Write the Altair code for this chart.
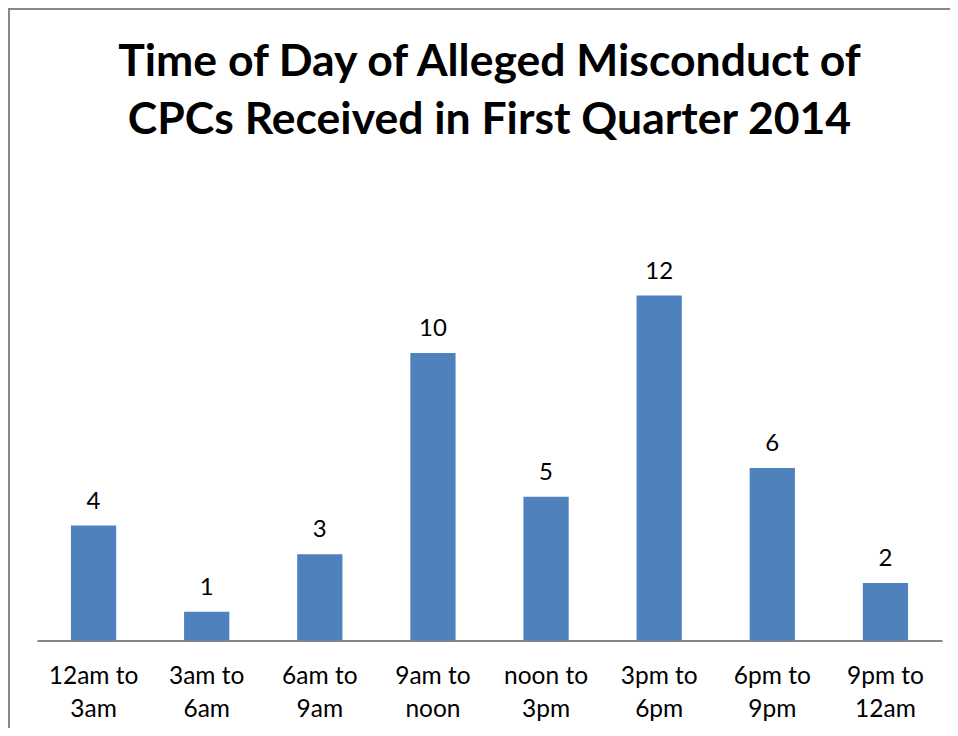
import altair as alt
import pandas as pd

categories = ["12am to|3am", "3am to|6am", "6am to|9am", "9am to|noon",
              "noon to|3pm", "3pm to|6pm", "6pm to|9pm", "9pm to|12am"]
values = [4, 1, 3, 10, 5, 12, 6, 2]

df = pd.DataFrame({"slot": categories, "count": values})

FONT = "Lato"

x = alt.X("slot:N", sort=categories, title=None,
          scale=alt.Scale(paddingInner=0.6, paddingOuter=0.3),
          axis=alt.Axis(labelExpr="split(datum.label, '|')", labelAngle=0,
                        labelFontSize=24.5, labelColor="black", labelFont=FONT,
                        labelLineHeight=33, labelPadding=24, ticks=False,
                        domainColor="#868686", domainWidth=2, labelBaseline="top"))
y = alt.Y("count:Q", title=None, scale=alt.Scale(domain=[0, 14]), axis=None)

bars = alt.Chart(df).mark_bar(color="#4F81BD").encode(x=x, y=y)
labels = alt.Chart(df).mark_text(dy=-12, baseline="bottom", fontSize=24,
                                 font=FONT, color="black").encode(x=x, y=y, text="count:Q")

border_v = alt.Chart(df).mark_rule(color="#888888", strokeWidth=2).encode(
    x=alt.value(-28), y=alt.value(-230), y2=alt.value(900))
border_h = alt.Chart(df).mark_rule(color="#888888", strokeWidth=2).encode(
    x=alt.value(-28), x2=alt.value(1100), y=alt.value(-229))

chart = alt.layer(bars, labels, border_v, border_h).properties(
    width=905, height=402.5,
    title=alt.TitleParams(
        text=["Time of Day of Alleged Misconduct of", "CPCs Received in First Quarter 2014"],
        font=FONT, fontSize=44.5, fontWeight="bold", color="black",
        anchor="middle", frame="group", lineHeight=58, offset=-136),
    autosize=alt.AutoSizeParams(type="none"),
    padding={"left": 29, "top": 230, "right": 8, "bottom": 87},
).configure(background="white").configure_view(stroke=None)

chart.save("out.html", embed_options={"renderer": "svg", "actions": False})
